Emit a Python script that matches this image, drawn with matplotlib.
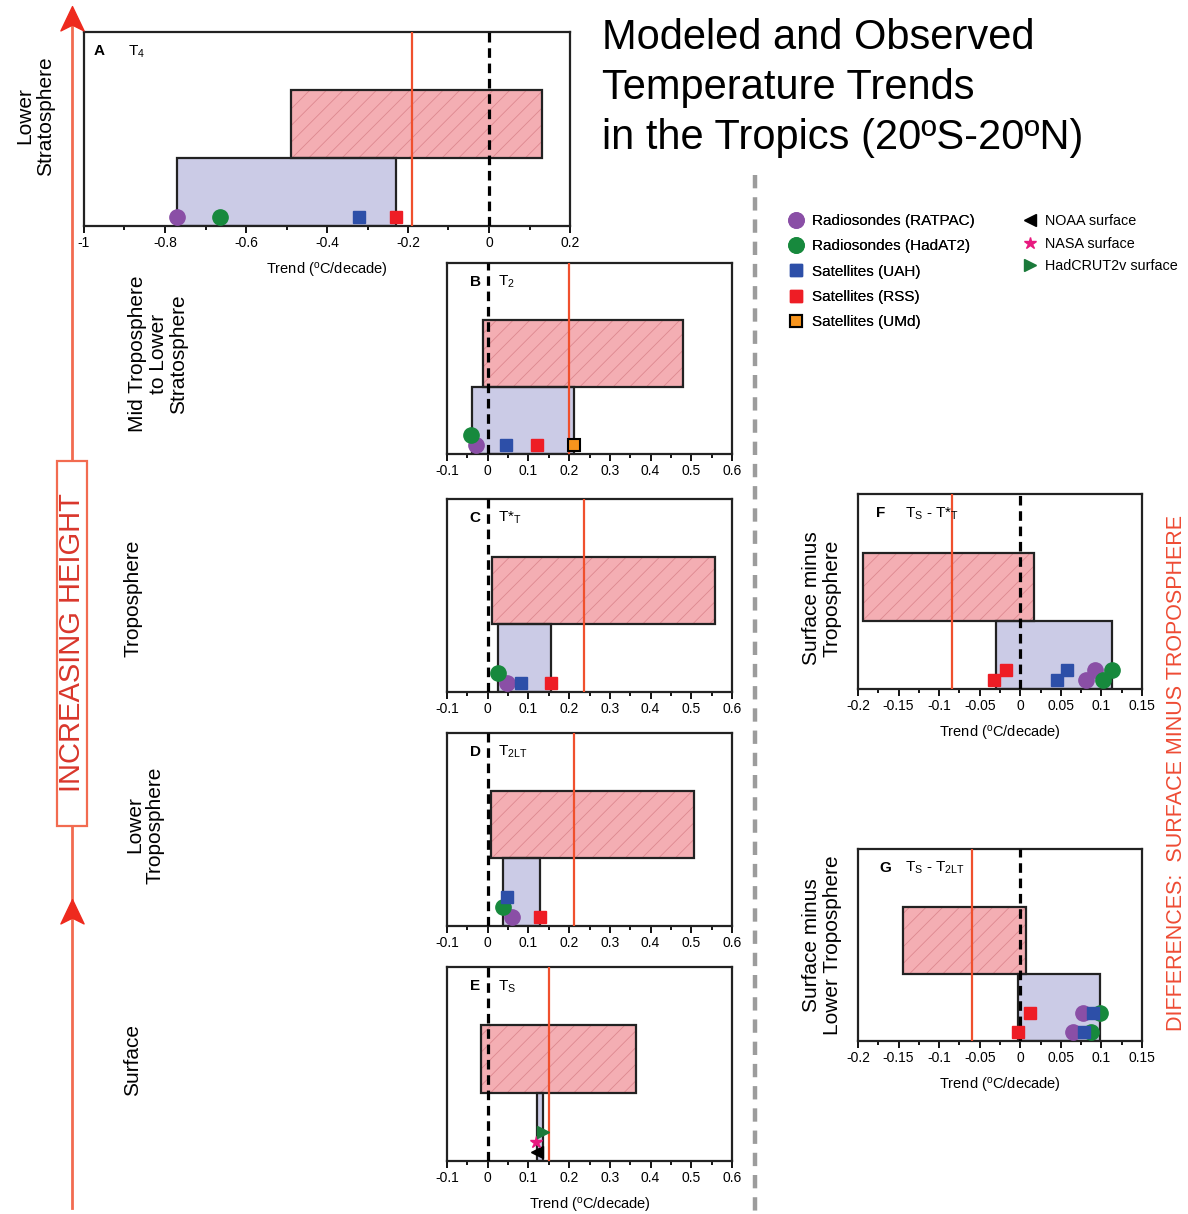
import matplotlib
matplotlib.use("Agg")
import matplotlib.pyplot as plt
from matplotlib.lines import Line2D
from matplotlib.patches import Rectangle
from matplotlib.path import Path
from matplotlib.ticker import MultipleLocator, FuncFormatter

plt.rcParams['font.family'] = ['Liberation Sans', 'DejaVu Sans']
plt.rcParams['mathtext.fontset'] = 'custom'
plt.rcParams['mathtext.rm'] = 'Liberation Sans'
plt.rcParams['mathtext.it'] = 'Liberation Sans'
plt.rcParams['hatch.linewidth'] = 0.6

W, H = 1188, 1214

# ---- data (trends in degC/decade) ----
panels = ["A", "B", "C", "D", "E", "F", "G"]
variables = [r"T$_4$", r"T$_2$", r"T*$_\mathrm{T}$", r"T$_\mathrm{2LT}$", r"T$_\mathrm{S}$",
             r"T$_\mathrm{S}$ - T*$_\mathrm{T}$", r"T$_\mathrm{S}$ - T$_\mathrm{2LT}$"]
model_lo = [-0.49, -0.012, 0.011, 0.008, -0.017, -0.194, -0.145]
model_hi = [0.13, 0.48, 0.558, 0.507, 0.365, 0.017, 0.007]
obs_lo = [-0.77, -0.038, 0.026, 0.038, 0.12, -0.03, -0.003]
obs_hi = [-0.23, 0.212, 0.155, 0.128, 0.136, 0.113, 0.098]
model_mean = [-0.19, 0.2, 0.237, 0.212, 0.151, -0.084, -0.059]

# observed trends per panel (F and G have two estimates each)
ratpac = [[-0.77], [-0.03], [0.047], [0.06], [], [0.081, 0.092], [0.065, 0.077]]
hadat2 = [[-0.665], [-0.04], [0.025], [0.038], [], [0.102, 0.113], [0.087, 0.098]]
uah = [[-0.32], [0.045], [0.082], [0.047], [], [0.045, 0.057], [0.079, 0.09]]
rss = [[-0.23], [0.12], [0.155], [0.128], [], [-0.032, -0.018], [-0.003, 0.012]]
umd = [[], [0.212], [], [], [], [], []]
noaa = [[], [], [], [], [0.12], [], []]
nasa = [[], [], [], [], [0.118], [], []]
hadcrut = [[], [], [], [], [0.135], [], []]

series_names = ["Radiosondes (RATPAC)", "Radiosondes (HadAT2)", "Satellites (UAH)",
                "Satellites (RSS)", "Satellites (UMd)", "NOAA surface", "NASA surface",
                "HadCRUT2v surface"]
series_vals = [ratpac, hadat2, uah, rss, umd, noaa, nasa, hadcrut]

# ---- styles / layout ----
styles = [
    dict(marker='o', color='#8A4FA6', mec='#8A4FA6', ms=11),
    dict(marker='o', color='#17893D', mec='#17893D', ms=11),
    dict(marker='s', color='#2D4FA8', mec='#2D4FA8', ms=9),
    dict(marker='s', color='#EE1D25', mec='#EE1D25', ms=9),
    dict(marker='s', color='#F7941D', mec='black', ms=8, mew=1.5),
    dict(marker='<', color='black', mec='black', ms=9),
    dict(marker='*', color='#E8197F', mec='#E8197F', ms=9),
    dict(marker='>', color='#1A7A3A', mec='#1A7A3A', ms=9),
]
# vertical stacking of overlapping markers (row index per panel/series)
stack = {"B": {1: 1}, "C": {1: 1}, "D": {2: 2, 1: 1}, "E": {7: 2, 6: 1}}

boxes = {"A": (84, 32, 570, 226), "B": (447, 263, 732, 454), "C": (447, 499, 732, 692),
         "D": (447, 733, 732, 926), "E": (447, 967, 732, 1161),
         "F": (858, 494, 1142, 689), "G": (858, 849, 1142, 1041)}
xlims = {"A": (-1, 0.2), "F": (-0.2, 0.15), "G": (-0.2, 0.15)}
label_x = {"A": (0.02, 0.09), "F": (0.065, 0.165), "G": (0.075, 0.165)}
with_xlabel = ["A", "E", "F", "G"]

PINK = '#F4AEB3'
HATCH = '#DD8890'
BLUE = '#CBCBE6'
RED = '#F0502D'

fig = plt.figure(figsize=(W / 100, H / 100), dpi=100)


def px_axes(x0, y0, x1, y1):
    return fig.add_axes([x0 / W, 1 - y1 / H, (x1 - x0) / W, (y1 - y0) / H])


def tick_fmt(v, pos):
    return '0' if abs(v) < 1e-9 else '%g' % round(v, 3)


for i, p in enumerate(panels):
    ax = px_axes(*boxes[p])
    lo, hi = xlims.get(p, (-0.1, 0.6))
    ax.set_xlim(lo, hi)
    ax.set_ylim(0, 1)
    ax.set_yticks([])

    # model range (hatched pink) and observed range (blue)
    ax.barh(0.525, model_hi[i] - model_lo[i], left=model_lo[i], height=0.35,
            color=PINK, edgecolor=HATCH, lw=0, hatch='//', zorder=1)
    ax.barh(0.525, model_hi[i] - model_lo[i], left=model_lo[i], height=0.35,
            fill=False, edgecolor='#222222', lw=1.6, zorder=2)
    ax.barh(0.175, obs_hi[i] - obs_lo[i], left=obs_lo[i], height=0.35,
            color=BLUE, edgecolor='#222222', lw=1.6, zorder=1)

    ax.axvline(0, color='black', lw=2.3, ls=(0, (3, 1.8)), zorder=3)
    ax.axvline(model_mean[i], color=RED, lw=1.6, zorder=3)

    for s, vals in enumerate(series_vals):
        for k, v in enumerate(vals[i]):
            if p == "F":
                row = k
            elif p == "G":
                row = 2 * k
            else:
                row = stack.get(p, {}).get(s, 0)
            y = 0.048 + 0.05 * row
            ax.plot([v], [y], ls='none', zorder=5, clip_on=False, **styles[s])

    step = 0.2 if p == "A" else (0.05 if p in ("F", "G") else 0.1)
    ax.xaxis.set_major_locator(MultipleLocator(step))
    ax.xaxis.set_minor_locator(MultipleLocator(step / 2))
    ax.xaxis.set_major_formatter(FuncFormatter(tick_fmt))
    ax.tick_params(axis='x', which='major', direction='out', length=5, width=1.3, labelsize=10, pad=2)
    ax.tick_params(axis='x', which='minor', direction='out', length=3, width=1.3)
    for sp in ax.spines.values():
        sp.set_linewidth(1.6)
        sp.set_color('#222222')
    if p in with_xlabel:
        ax.set_xlabel(r'Trend ($^\mathrm{o}$C/decade)', fontsize=10.5, labelpad=8)

    lx, vx = label_x.get(p, (0.08, 0.18))
    ax.text(lx, 0.9, p, transform=ax.transAxes, fontsize=11, fontweight='bold', va='center', zorder=6)
    ax.text(vx, 0.9, variables[i], transform=ax.transAxes, fontsize=11, va='center', zorder=6)

# ---- title ----
fig.text(602 / W, 1 - 18 / H, "Modeled and Observed\nTemperature Trends\nin the Tropics (20ºS-20ºN)",
         fontsize=30, va='top', ha='left', linespacing=1.32)

# ---- row labels ----
row_labels = [("Lower\nStratosphere", 35, 116),
              ("Mid Troposphere\nto Lower\nStratosphere", 158, 354),
              ("Troposphere", 133, 598),
              ("Lower\nTroposphere", 145, 825),
              ("Surface", 133, 1060),
              ("Surface minus\nTroposphere", 822, 598),
              ("Surface minus\nLower Troposphere", 822, 945)]
for txt, x, y in row_labels:
    fig.text(x / W, 1 - y / H, txt, rotation=90, fontsize=15, ha='center', va='center',
             multialignment='center', linespacing=1.1)

fig.text(1176 / W, 1 - 773 / H, "DIFFERENCES:  SURFACE MINUS TROPOSPHERE", rotation=90,
         fontsize=15.5, color='#EE4B34', ha='center', va='center')

# ---- increasing height arrow ----
ARROW = '#F26B50'
fig.add_artist(Line2D([72 / W, 72 / W], [1 - 1208 / H, 1 - 22 / H], transform=fig.transFigure,
                      color=ARROW, lw=2))
head = Path([(0, 0.6), (0.5, -0.45), (0, -0.2), (-0.5, -0.45), (0, 0.6)],
            [Path.MOVETO, Path.LINETO, Path.LINETO, Path.LINETO, Path.CLOSEPOLY])
for yy in (20, 913):
    fig.add_artist(Line2D([72 / W], [1 - yy / H], transform=fig.transFigure, marker=head,
                          ms=20, color='#EE2A1E', ls='none'))
fig.add_artist(Rectangle((57 / W, 1 - 826 / H), 30 / W, 365 / H, transform=fig.transFigure,
                         fc='white', ec=ARROW, lw=1.6, zorder=3))
fig.text(72 / W, 1 - 643 / H, "INCREASING HEIGHT", rotation=90, fontsize=21, color='#D9362B',
         ha='center', va='center', zorder=4)

# ---- dashed separator ----
fig.add_artist(Line2D([755 / W, 755 / W], [1 - 175 / H, 0], transform=fig.transFigure,
                      color='#9C9C9C', lw=3.2, ls=(0, (3, 2))))

# ---- legends ----
def handle(s):
    return Line2D([], [], ls='none', **styles[s])

leg1 = fig.legend([handle(s) for s in range(5)], series_names[:5], loc='upper left',
                  bbox_to_anchor=(788 / W, 1 - 214 / H), frameon=False, fontsize=11,
                  handlelength=1.0, handletextpad=0.55, labelspacing=0.74, borderpad=0,
                  borderaxespad=0)
fig.add_artist(leg1)
fig.legend([handle(s) for s in range(5, 8)], series_names[5:], loc='upper left',
           bbox_to_anchor=(1023 / W, 1 - 214 / H), frameon=False, fontsize=10.4,
           handlelength=1.0, handletextpad=0.5, labelspacing=0.6, borderpad=0,
           borderaxespad=0)

fig.savefig("out.png", dpi=100)
